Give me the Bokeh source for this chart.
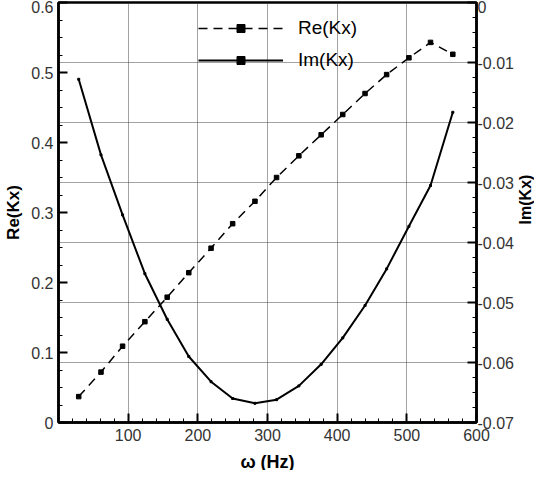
import math
from bokeh.plotting import figure
from bokeh.layouts import row, column
from bokeh.models import (Range1d, LinearAxis, FixedTicker, Grid, Legend, LegendItem)
from bokeh.core.properties import value
from bokeh.embed import file_html
from bokeh.resources import INLINE

# ---- data ----
omega = [29, 61, 92, 124, 156, 187, 219, 250, 282, 313, 345, 377, 408, 440, 471, 503, 534, 566]
re_kx = [0.037, 0.072, 0.109, 0.144, 0.179, 0.214, 0.249, 0.284, 0.316, 0.350, 0.381, 0.411,
         0.440, 0.470, 0.497, 0.521, 0.543, 0.526]
im_kx = [-0.0128, -0.0254, -0.0354, -0.0452, -0.0528, -0.0590, -0.0632, -0.0660, -0.0668,
         -0.0662, -0.0639, -0.0603, -0.0559, -0.0505, -0.0444, -0.0373, -0.0305, -0.0183]

x_ticks = [100, 200, 300, 400, 500, 600]
x_minor = [20, 40, 60, 80, 120, 140, 160, 180, 220, 240, 260, 280, 320, 340, 360, 380,
           420, 440, 460, 480, 520, 540, 560, 580]
re_ticks = [0, 0.1, 0.2, 0.3, 0.4, 0.5, 0.6]
re_labels = ["0", "0.1", "0.2", "0.3", "0.4", "0.5", "0.6"]
re_minor = [0.025, 0.05, 0.075, 0.125, 0.15, 0.175, 0.225, 0.25, 0.275, 0.325, 0.35, 0.375,
            0.425, 0.45, 0.475, 0.525, 0.55, 0.575]
im_ticks = [-0.07, -0.06, -0.05, -0.04, -0.03, -0.02, -0.01, 0]
im_labels = ["-0.07", "-0.06", "-0.05", "-0.04", "-0.03", "-0.02", "-0.01", "0"]
im_minor = [-0.0675, -0.065, -0.0625, -0.0575, -0.055, -0.0525, -0.0475, -0.045, -0.0425,
            -0.0375, -0.035, -0.0325, -0.0275, -0.025, -0.0225, -0.0175, -0.015, -0.0125,
            -0.0075, -0.005, -0.0025]
grid_y = [-0.06, -0.05, -0.04, -0.03, -0.02, -0.01]
grid_x = [100, 200, 300, 400, 500]
x_title = "ω (Hz)"
re_title = "Re(Kx)"
im_title = "Im(Kx)"

FONT = "Liberation Sans"
W, H = 516, 452          # main plot
BL, BR, BT, BB = 58, 40, 2, 30
FW, FH = W - BL - BR, H - BT - BB
SIDE_W = 18              # strip holding the right-hand title
BOTTOM_H = 18            # strip holding the x title

p = figure(width=W, height=H, x_range=Range1d(0, 600), y_range=Range1d(0, 0.6),
           output_backend="svg", toolbar_location=None,
           min_border_left=BL, min_border_right=BR, min_border_top=BT, min_border_bottom=BB)
p.extra_y_ranges = {"im": Range1d(-0.07, 0)}
p.background_fill_color = "white"
p.border_fill_color = "white"
p.outline_line_color = "black"
p.outline_line_width = 2.5
p.xgrid.visible = False
p.ygrid.visible = False

def style_axis(ax):
    ax.axis_line_color = "black"
    ax.axis_line_width = 2.5
    ax.major_tick_in = 9
    ax.major_tick_out = 0
    ax.minor_tick_in = 4
    ax.minor_tick_out = 0
    ax.major_tick_line_width = 2
    ax.minor_tick_line_width = 1
    ax.major_label_text_font = FONT
    ax.major_label_text_font_size = "16px"
    ax.major_label_text_color = "#333333"
    ax.axis_label_text_font = FONT
    ax.axis_label_text_font_style = "bold"
    ax.axis_label_text_font_size = "17px"
    ax.axis_label_text_color = "black"

xa = p.xaxis[0]
xa.ticker = FixedTicker(ticks=x_ticks, minor_ticks=x_minor)
style_axis(xa)
xa.major_label_standoff = 6
xa.major_label_text_line_height = 1.0

ya = p.yaxis[0]
ya.ticker = FixedTicker(ticks=re_ticks, minor_ticks=re_minor)
ya.major_label_overrides = dict(zip(re_ticks, re_labels))
ya.axis_label = re_title
style_axis(ya)
ya.major_label_standoff = 5
ya.axis_label_standoff = 5

ra = LinearAxis(y_range_name="im")
ra.ticker = FixedTicker(ticks=im_ticks, minor_ticks=im_minor)
ra.major_label_overrides = dict(zip(im_ticks, im_labels))
style_axis(ra)
ra.major_label_standoff = 1
p.add_layout(ra, "right")

# grids: vertical from x ticks, horizontal from the Im axis ticks
gx = Grid(dimension=0, ticker=FixedTicker(ticks=grid_x), grid_line_color="#444444",
          grid_line_dash="1 1", grid_line_width=1)
gy = Grid(dimension=1, ticker=FixedTicker(ticks=grid_y), y_range_name="im",
          grid_line_color="#444444", grid_line_dash="1 1", grid_line_width=1)
p.add_layout(gx)
p.add_layout(gy)

r_line = p.line(omega, re_kx, line_color="black", line_width=1.5, line_dash="9 6")
r_mark = p.scatter(omega, re_kx, marker="square", size=4.5, color="black")
i_line = p.line(omega, im_kx, y_range_name="im", line_color="black", line_width=2)
i_mark = p.scatter(omega, im_kx, y_range_name="im", marker="square", size=2, color="black")

legend = Legend(items=[LegendItem(label="Re(Kx)", renderers=[r_line, r_mark]),
                       LegendItem(label="Im(Kx)", renderers=[i_line, i_mark])],
                location=(140, FH - 69), orientation="vertical",
                glyph_width=85, glyph_height=20, label_height=20, spacing=10,
                label_standoff=15, padding=0, margin=0,
                border_line_alpha=0, background_fill_alpha=0,
                label_text_font=FONT, label_text_font_size="19px", label_text_color="black")
p.add_layout(legend, "center")

def strip(w, h):
    s = figure(width=w, height=h, x_range=Range1d(0, w), y_range=Range1d(0, h),
               x_axis_type=None, y_axis_type=None, output_backend="svg",
               toolbar_location=None, min_border=0)
    s.outline_line_color = None
    s.background_fill_color = "white"
    s.border_fill_color = "white"
    s.xgrid.visible = False
    s.ygrid.visible = False
    return s

# right-hand title (reads bottom to top)
s_right = strip(SIDE_W, H)
s_right.text(x=[SIDE_W * 0.5], y=[H - BT - FH / 2], text=[im_title], angle=math.pi / 2,
             text_align="center", text_baseline="middle", text_font=value(FONT),
             text_font_style="bold", text_font_size="16px", text_color="black")

# bottom title
s_bottom = strip(W + SIDE_W, BOTTOM_H)
s_bottom.text(x=[BL + FW / 2], y=[BOTTOM_H / 2], text=[x_title], text_align="center",
              text_baseline="middle", text_font=value(FONT), text_font_style="bold",
              text_font_size="18px", text_color="black")

layout = column(row(p, s_right, spacing=0), s_bottom, spacing=0)
open("out.html", "w").write(file_html(layout, INLINE))
